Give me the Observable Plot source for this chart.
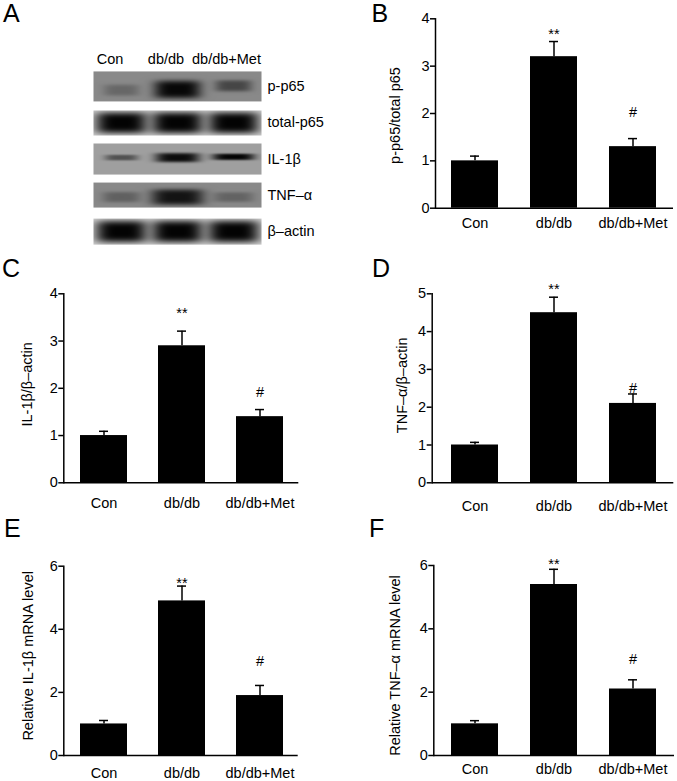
<!DOCTYPE html>
<html><head><meta charset="utf-8">
<script src="https://cdn.jsdelivr.net/npm/d3@7"></script>
<script src="https://cdn.jsdelivr.net/npm/@observablehq/plot@0.6"></script>
<style>
body{margin:0;background:#fff;}
#fig{position:relative;width:677px;height:781px;overflow:hidden;font-family:"Liberation Sans",Arial,sans-serif;color:#000;}
.panel{position:absolute;}
.letter{position:absolute;font-size:25px;line-height:25px;color:#000;font-family:"Liberation Sans",Arial,sans-serif;}
</style></head><body><div id="fig"></div>
<script>
// ---------- data ----------
const groups = ["Con", "db/db", "db/db+Met"];
const proteins = ["p-p65", "total-p65", "IL-1β", "TNF–α", "β–actin"];

// Panel A: western blot band intensities (0..1) per lane
const pp65Band = [0.25, 0.97, 0.5];
const totalP65Band = [1.0, 1.0, 1.0];
const il1bBand = [0.5, 0.95, 1.0];
const tnfBand = [0.3, 0.88, 0.28];
const actinBand = [1.0, 1.0, 1.0];

// Panel B
const pp65Mean = [1.0, 3.2, 1.3];
const pp65Err = [0.10, 0.32, 0.17];
const pp65SigY = [null, 3.75, 2.02];
// Panel C
const il1bProtMean = [1.0, 2.9, 1.4];
const il1bProtErr = [0.09, 0.31, 0.15];
const il1bProtSigY = [null, 3.65, 1.92];
// Panel D
const tnfProtMean = [1.0, 4.5, 2.1];
const tnfProtErr = [0.07, 0.41, 0.25];
const tnfProtSigY = [null, 5.22, 2.49];
// Panel E
const il1bMrnaMean = [1.0, 4.9, 1.9];
const il1bMrnaErr = [0.11, 0.47, 0.32];
const il1bMrnaSigY = [null, 5.58, 2.99];
// Panel F
const tnfMrnaMean = [1.0, 5.4, 2.1];
const tnfMrnaErr = [0.10, 0.48, 0.29];
const tnfMrnaSigY = [null, 6.16, 3.03];

const sigLabels = ["", "**", "#"];
const yTicksB = [0, 1, 2, 3, 4];
const yTicksC = [0, 1, 2, 3, 4];
const yTicksD = [0, 1, 2, 3, 4, 5];
const yTicksE = [0, 2, 4, 6];
const yTicksF = [0, 2, 4, 6];

// ---------- layout / style ----------
const FONT = "Liberation Sans, Arial, sans-serif";
const FS = 14.5;
const fig = document.getElementById("fig");

function place(node, left, top) {
  const d = document.createElement("div");
  d.className = "panel";
  d.style.left = left + "px";
  d.style.top = top + "px";
  d.appendChild(node);
  fig.appendChild(d);
}
function letter(t, left, top) {
  const d = document.createElement("div");
  d.className = "letter";
  d.textContent = t;
  d.style.left = left + "px";
  d.style.top = top + "px";
  fig.appendChild(d);
}

// ---------- Panel A (blot) ----------
const bandSets = [pp65Band, totalP65Band, il1bBand, tnfBand, actinBand];
const stripHalf = [0.41, 0.345, 0.43, 0.345, 0.36];
const stripShade = [0.47, 0.2, 0.38, 0.47, 0.18];
const bandW = [[0.32,0.42,0.33],[0.47,0.47,0.46],[0.3,0.4,0.38],[0.34,0.47,0.36],[0.47,0.47,0.47]];
const bandH = [[0.16,0.25,0.16],[0.3,0.3,0.3],[0.08,0.13,0.09],[0.15,0.22,0.14],[0.31,0.31,0.31]];
const bandOff = [[0.1,0.08,-0.02],[0,0,0],[-0.04,-0.04,-0.06],[0.05,0.05,0.05],[0,0,0]];
function blotDarkness(x, y) {
  const r = Math.round(y);
  if (r < 0 || r > 4) return 0;
  const ly = y - r;
  if (Math.abs(ly) > stripHalf[r]) return 0;
  let d = stripShade[r];
  for (let k = 0; k < 3; k++) {
    const dx = (x - (k + 0.5)) / bandW[r][k];
    const dy = (ly - bandOff[r][k]) / bandH[r][k];
    const p = Math.exp(-(dx * dx * dx * dx) - (dy * dy * dy * dy));
    d += (1 - d) * bandSets[r][k] * p;
  }
  return Math.min(1, d);
}

const laneIdx = groups.map((g, i) => ({g, i}));
const blot = Plot.plot({
  width: 340, height: 250,
  marginLeft: 93, marginRight: 79, marginTop: 67.9, marginBottom: 0.9,
  style: {fontFamily: FONT, fontSize: FS + "px", background: "transparent", color: "black", overflow: "visible"},
  x: {domain: [0, 3], axis: null},
  y: {domain: [-0.5, 4.5], reverse: true, axis: null},
  color: {type: "linear", domain: [0, 1], range: ["#ffffff", "#030303"]},
  marks: [
    Plot.raster({x1: 0, x2: 3, y1: -0.5, y2: 4.5, fill: blotDarkness, imageRendering: "auto"}),
    Plot.text(laneIdx.filter(d => d.i < 2), {x: d => d.i + 0.5, frameAnchor: "top", dy: -15, dx: -11.5, text: "g", fontSize: FS, fill: "black"}),
    Plot.text(laneIdx.filter(d => d.i === 2), {x: d => d.i + 0.5, frameAnchor: "top", dy: -15, dx: -7, text: "g", fontSize: FS, fill: "black"}),
    Plot.text(proteins, {y: (d, i) => i, frameAnchor: "right", textAnchor: "start", dx: 6, text: d => d, fontSize: FS, fill: "black"})
  ]
});
place(blot, 0, 0);

// ---------- bar panels ----------
function barPanel(means, errs, sigY, ticks, label, L) {
  const rows = groups.map((g, i) => ({
    group: g, mean: means[i], top: means[i] + errs[i], sig: sigLabels[i], sigY: sigY[i]
  }));
  const pi = 1 - 47 / L.step;
  const ymax = ticks[ticks.length - 1];
  return Plot.plot({
    width: L.width, height: L.height,
    marginLeft: L.mL, marginRight: L.mR, marginTop: L.mT, marginBottom: L.mB,
    style: {fontFamily: FONT, fontSize: FS + "px", background: "transparent", color: "black", overflow: "visible"},
    x: {type: "band", domain: groups, range: [L.c1 - L.step / 2 - L.left, L.c1 + 2.5 * L.step - L.left],
        paddingInner: pi, paddingOuter: pi / 2, axis: null},
    y: {domain: [0, ymax], axis: null},
    marks: [
      Plot.barY(rows, {x: "group", y: "mean", fill: "black"}),
      Plot.ruleX(rows, {x: "group", y1: "mean", y2: "top", stroke: "black", strokeWidth: 1.5}),
      Plot.tickY(rows, {x: "group", y: "top", stroke: "black", strokeWidth: 1.5, insetLeft: 19, insetRight: 19}),
      Plot.text(rows.filter(d => d.sig === "**"), {x: "group", y: "sigY", text: "sig", fontSize: FS, dy: 3.5, fill: "black"}),
      Plot.text(rows.filter(d => d.sig === "#"), {x: "group", y: "sigY", text: "sig", fontSize: FS, fill: "black"}),
      Plot.axisY({ticks, tickFormat: d => String(d), tickSize: 5, tickPadding: 1, fontSize: FS, label: null, strokeWidth: 1.5}),
      Plot.axisX({tickSize: 0, tickPadding: L.catPad, fontSize: FS, label: null}),
      Plot.frame({anchor: "left", strokeWidth: 1.5}),
      Plot.ruleY([0], {stroke: "black", strokeWidth: 1.5}),
      Plot.text([label], {frameAnchor: "left", textAnchor: "middle", lineAnchor: "middle", dx: -L.labelOff, dy: L.labelDy, rotate: -90, text: d => d, fontSize: FS, fill: "black"})
    ]
  });
}

const LB = {left:340, top:0, width:337, height:250, mL:95, mR:4, mT:18.3, mB:42.3, c1:474.7, step:79, catPad:10, labelOff:40, labelDy:2};
const LC = {left:0, top:250, width:340, height:260, mL:63.3, mR:41.7, mT:43.3, mB:27.7, c1:103.6, step:78.1, catPad:15, labelOff:36.6, labelDy:-4};
const LD = {left:340, top:250, width:337, height:260, mL:91.7, mR:3.7, mT:43.3, mB:27.7, c1:474.7, step:79, catPad:17.5, labelOff:30, labelDy:-3};
const LE = {left:0, top:510, width:340, height:271, mL:63.3, mR:42.3, mT:55.7, mB:26, c1:103.6, step:78.1, catPad:12, labelOff:35, labelDy:-5};
const LF = {left:340, top:510, width:337, height:271, mL:93.3, mR:3, mT:55, mB:26, c1:474.7, step:79, catPad:8.6, labelOff:38.3, labelDy:5};

place(barPanel(pp65Mean, pp65Err, pp65SigY, yTicksB, "p-p65/total p65", LB), LB.left, LB.top);
place(barPanel(il1bProtMean, il1bProtErr, il1bProtSigY, yTicksC, "IL-1β/β–actin", LC), LC.left, LC.top);
place(barPanel(tnfProtMean, tnfProtErr, tnfProtSigY, yTicksD, "TNF–α/β–actin", LD), LD.left, LD.top);
place(barPanel(il1bMrnaMean, il1bMrnaErr, il1bMrnaSigY, yTicksE, "Relative IL-1β mRNA level", LE), LE.left, LE.top);
place(barPanel(tnfMrnaMean, tnfMrnaErr, tnfMrnaSigY, yTicksF, "Relative TNF–α mRNA level", LF), LF.left, LF.top);

letter("A", 3, 0.5);
letter("B", 371.5, 0.5);
letter("C", 2, 255.5);
letter("D", 372, 255.5);
letter("E", 4, 515.5);
letter("F", 369, 515.5);
</script>
</body></html>
